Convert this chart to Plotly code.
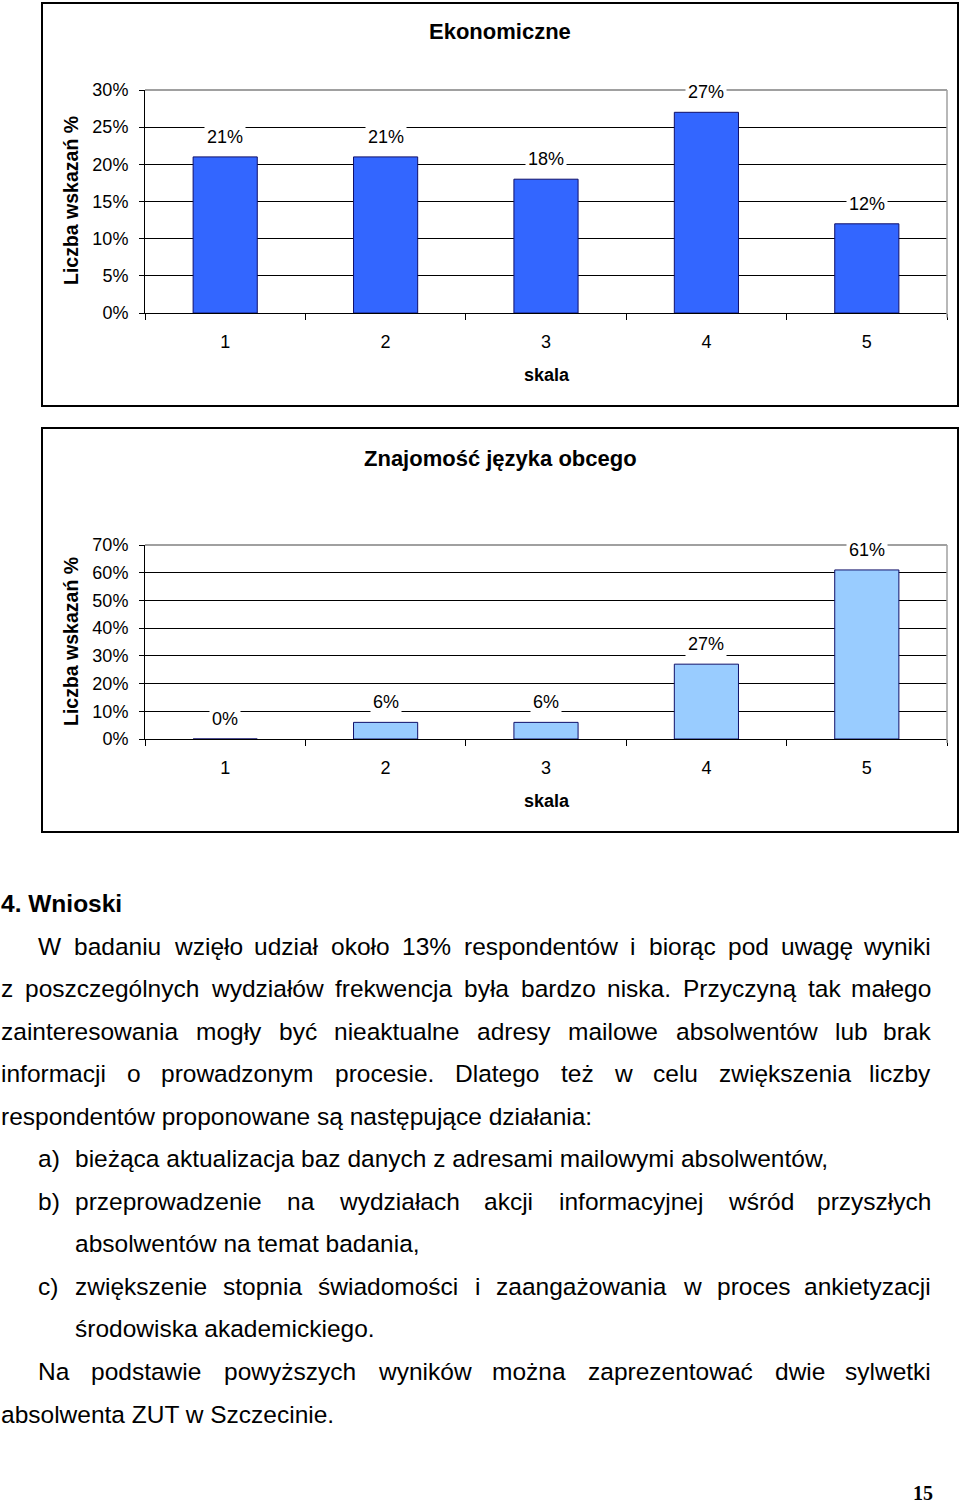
import plotly.graph_objects as go

W, H = 960, 1505

# ---------------- data ----------------
categories = ["1", "2", "3", "4", "5"]
ekon_values = [21, 21, 18, 27, 12]
jezyk_values = [0, 6, 6, 27, 61]
ekon_ticks = [0, 5, 10, 15, 20, 25, 30]
jezyk_ticks = [0, 10, 20, 30, 40, 50, 60, 70]
chart1_title = "Ekonomiczne"
chart2_title = "Znajomość języka obcego"
y_title = "Liczba wskazań %"
x_title = "skala"

heading = "4. Wnioski"
# (indent_px, text, justified, label)
body_lines = [
    (37, "W badaniu wzięło udział około 13% respondentów i biorąc pod uwagę wyniki", True, None),
    (0, "z poszczególnych wydziałów frekwencja była bardzo niska. Przyczyną tak małego", True, None),
    (0, "zainteresowania mogły być nieaktualne adresy mailowe absolwentów lub brak", True, None),
    (0, "informacji o prowadzonym procesie. Dlatego też w celu zwiększenia liczby", True, None),
    (0, "respondentów proponowane są następujące działania:", False, None),
    (74, "bieżąca aktualizacja baz danych z adresami mailowymi absolwentów,", False, "a)"),
    (74, "przeprowadzenie na wydziałach akcji informacyjnej wśród przyszłych", True, "b)"),
    (74, "absolwentów na temat badania,", False, None),
    (74, "zwiększenie stopnia świadomości i zaangażowania w proces ankietyzacji", True, "c)"),
    (74, "środowiska akademickiego.", False, None),
    (37, "Na podstawie powyższych wyników można zaprezentować dwie sylwetki", True, None),
    (0, "absolwenta ZUT w Szczecinie.", False, None),
]
page_number = "15"

# ---------------- helpers ----------------
def px(x):
    return x / W

def py(y):
    return 1 - y / H

ARIAL = {
    ' ': 278, 'a': 556, 'b': 556, 'c': 500, 'd': 556, 'e': 556, 'f': 278, 'g': 556,
    'h': 556, 'i': 222, 'j': 222, 'k': 500, 'l': 222, 'm': 833, 'n': 556, 'o': 556,
    'p': 556, 'q': 556, 'r': 333, 's': 500, 't': 278, 'u': 556, 'v': 500, 'w': 722,
    'x': 500, 'y': 500, 'z': 500, 'ą': 556, 'ę': 556, 'ó': 556, 'ś': 500, 'ź': 500,
    'ż': 500, 'ć': 500, 'ń': 556, 'ł': 222, 'D': 722, 'N': 722, 'P': 667, 'S': 667,
    'T': 611, 'U': 722, 'W': 944, 'Z': 611, '%': 889, '.': 278, ',': 278, ':': 278,
    '(': 333, ')': 333,
}

def tw(s, size):
    return sum(ARIAL.get(ch, 556) for ch in s) * size / 1000.0

BODY_FONT = "Liberation Sans, Arial, sans-serif"
BODY_SIZE = 24.5
CHART_FONT = "Liberation Sans, Arial, sans-serif"

fig = go.Figure()

fig.add_trace(go.Bar(x=categories, y=ekon_values, marker=dict(color="#3366FF", line=dict(color="#10106A", width=1)),
                     xaxis="x", yaxis="y", showlegend=False, hoverinfo="skip"))
fig.add_trace(go.Bar(x=categories, y=jezyk_values, marker=dict(color="#99CCFF", line=dict(color="#10106A", width=1)),
                     xaxis="x2", yaxis="y2", showlegend=False, hoverinfo="skip"))

annotations = []
shapes = []

common_x = dict(type="category", range=[-0.5, len(categories) - 0.5], showline=True, linecolor="black",
                linewidth=1, ticks="outside", tickson="boundaries", ticklen=6, tickcolor="black",
                showgrid=False, automargin=False,
                tickfont=dict(family=CHART_FONT, size=18, color="black"), ticklabelstandoff=12)
common_y = dict(showline=True, linecolor="black", linewidth=1, ticks="outside", ticklen=5,
                tickcolor="black", showgrid=True, gridcolor="black", gridwidth=1, zeroline=False,
                automargin=False, tickmode="array",
                tickfont=dict(family=CHART_FONT, size=18, color="black"), ticklabelstandoff=7)

fig.update_layout(
    xaxis=dict(domain=[px(145), px(947)], anchor="y", **common_x),
    yaxis=dict(domain=[py(313), py(90)], anchor="x", range=[0, 30], tickvals=ekon_ticks,
               ticktext=[f"{t}%" for t in ekon_ticks], **common_y),
    xaxis2=dict(domain=[px(145), px(947)], anchor="y2", **common_x),
    yaxis2=dict(domain=[py(739), py(545)], anchor="x2", range=[0, 70], tickvals=jezyk_ticks,
                ticktext=[f"{t}%" for t in jezyk_ticks], **common_y),
)

# chart frames, gray top/right plot borders, titles
charts = [("x", "y", ekon_values, chart1_title, 3, 406, 32, 375, 201),
          ("x2", "y2", jezyk_values, chart2_title, 428, 832, 458, 801, 642)]
for xr, yr, vals, title, ftop, fbot, ty, sy, yt in charts:
    shapes.append(dict(type="rect", xref="paper", yref="paper", x0=px(42), x1=px(958), y0=py(fbot), y1=py(ftop),
                       line=dict(color="black", width=2), layer="above"))
    shapes.append(dict(type="line", xref=f"{xr} domain", yref=f"{yr} domain", x0=0, x1=1, y0=1, y1=1,
                       line=dict(color="#A0A0A0", width=2)))
    shapes.append(dict(type="line", xref=f"{xr} domain", yref=f"{yr} domain", x0=1, x1=1, y0=-0.02, y1=1,
                       line=dict(color="#A0A0A0", width=1.5)))
    annotations.append(dict(text=title, xref="paper", yref="paper", x=px(500), y=py(ty), showarrow=False,
                            xanchor="center", yanchor="middle",
                            font=dict(family=CHART_FONT, size=22, color="black", weight="bold")))
    annotations.append(dict(text=x_title, xref="paper", yref="paper", x=px(547), y=py(sy), showarrow=False,
                            xanchor="center", yanchor="middle",
                            font=dict(family=CHART_FONT, size=18, color="black", weight="bold")))
    annotations.append(dict(text=y_title, xref="paper", yref="paper", x=px(71), y=py(yt), showarrow=False,
                            textangle=-90, xanchor="center", yanchor="middle",
                            font=dict(family=CHART_FONT, size=19.5, color="black", weight="bold")))
    for i, v in enumerate(vals):
        annotations.append(dict(text=f"{v}%", xref=xr, yref=yr, x=i, y=v, yshift=20, showarrow=False,
                                xanchor="center", yanchor="middle", bgcolor="white", borderpad=2,
                                font=dict(family=CHART_FONT, size=18, color="black")))

# ---------------- text block ----------------
annotations.append(dict(text=heading, xref="paper", yref="paper", x=0, y=py(903), showarrow=False,
                        xanchor="left", yanchor="middle", borderpad=0,
                        font=dict(family=BODY_FONT, size=BODY_SIZE, color="black", weight="bold")))

LINE0 = 946
STEP = 42.55
RIGHT = 932
for i, (x0, text, just, label) in enumerate(body_lines):
    yc = py(LINE0 + i * STEP)
    font = dict(family=BODY_FONT, size=BODY_SIZE, color="black")
    if label:
        annotations.append(dict(text=label, xref="paper", yref="paper", x=px(37), y=yc, showarrow=False,
                                xanchor="left", yanchor="middle", borderpad=0, font=font))
    if not just:
        annotations.append(dict(text=text, xref="paper", yref="paper", x=px(x0), y=yc, showarrow=False,
                                xanchor="left", yanchor="middle", borderpad=0, font=font))
        continue
    words = text.split(" ")
    widths = [tw(w, BODY_SIZE) for w in words]
    gap = (RIGHT - x0 - sum(widths)) / (len(words) - 1)
    x = x0
    for j, (w, wd) in enumerate(zip(words, widths)):
        if j == len(words) - 1:
            annotations.append(dict(text=w, xref="paper", yref="paper", x=px(RIGHT), y=yc, showarrow=False,
                                    xanchor="right", yanchor="middle", borderpad=0, font=font))
        else:
            annotations.append(dict(text=w, xref="paper", yref="paper", x=px(x), y=yc, showarrow=False,
                                    xanchor="left", yanchor="middle", borderpad=0, font=font))
        x += wd + gap

annotations.append(dict(text=page_number, xref="paper", yref="paper", x=px(923), y=0, showarrow=False,
                        xanchor="center", yanchor="bottom", borderpad=0,
                        font=dict(family="Liberation Serif, Times New Roman, serif", size=20, color="black",
                                  weight="bold")))

fig.update_layout(
    width=W, height=H, autosize=False,
    margin=dict(l=0, r=0, t=0, b=0, pad=0, autoexpand=False),
    paper_bgcolor="white", plot_bgcolor="white",
    bargap=0.6, showlegend=False,
    annotations=annotations, shapes=shapes,
)

fig.write_html("out.html")
